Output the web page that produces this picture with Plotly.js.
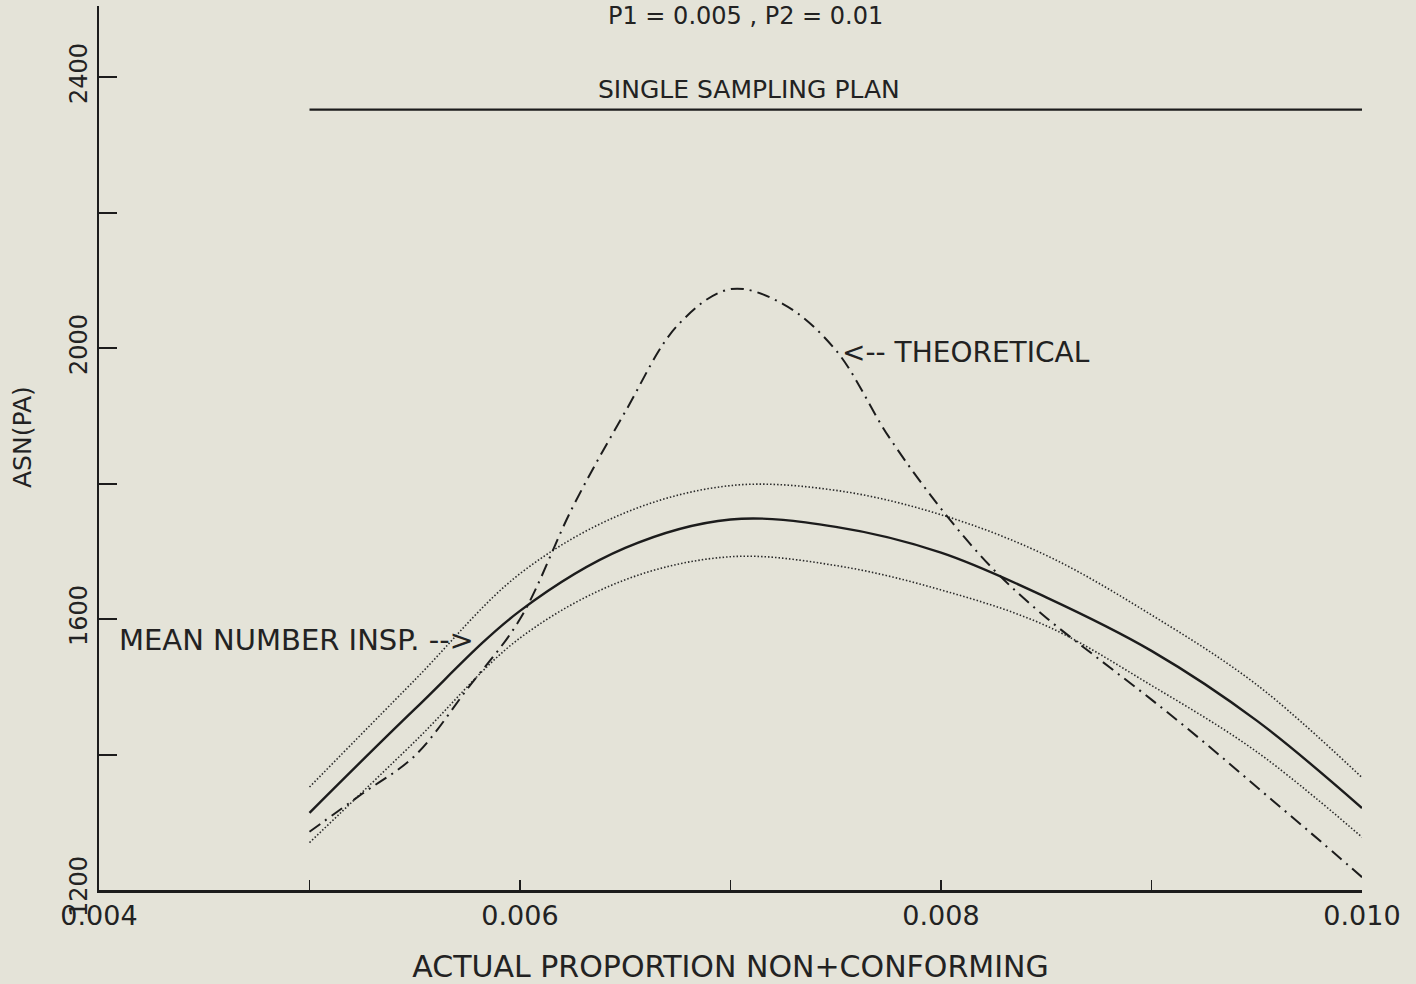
<!DOCTYPE html>
<html>
<head>
<meta charset="utf-8">
<script src="https://cdn.plot.ly/plotly-3.0.1.min.js"></script>
<style>html,body{margin:0;padding:0;background:#e4e3d8;}#chart{width:1416px;height:984px;}</style>
</head>
<body>
<div id="chart"></div>
<script>
// Proportion non-conforming (x) grid for the simulated curves
const pLevels = [0.005, 0.0055, 0.006, 0.0065, 0.007, 0.0075, 0.008, 0.0085, 0.009, 0.0095, 0.010];
const meanASN  = [1314, 1467, 1612, 1705, 1747, 1736, 1698, 1632, 1553, 1450, 1321];
const upperASN = [1352, 1510, 1667, 1757, 1797, 1790, 1754, 1694, 1606, 1503, 1366];
const lowerASN = [1270, 1419, 1572, 1658, 1692, 1679, 1643, 1590, 1502, 1404, 1278];

// Theoretical ASN curve
const pTheory = [0.005, 0.00525, 0.0055, 0.00575, 0.006, 0.00625, 0.0065, 0.00675, 0.007, 0.00725, 0.0075, 0.00775, 0.008, 0.00825, 0.0085, 0.00875, 0.009, 0.00925, 0.0095, 0.00975, 0.010];
const theoryASN = [1286, 1342, 1398, 1497, 1600, 1765, 1906, 2034, 2087, 2065, 1997, 1870, 1763, 1673, 1602, 1541, 1481, 1418, 1352, 1286, 1219];

// Single sampling plan (constant)
const pSingle = [0.005, 0.010];
const singleASN = [2352, 2352];

// Axis ticks
const xTickVals = [0.004, 0.005, 0.006, 0.007, 0.008, 0.009, 0.010];
const xTickText = ['0.004', '', '0.006', '', '0.008', '', '0.010'];
const yTickVals = [1200, 1400, 1600, 1800, 2000, 2200, 2400];
const yTickText = ['1200', '', '1600', '', '2000', '', '2400'];

const ink = '#1c1c1c';

const traces = [
  {x: pSingle, y: singleASN, mode: 'lines', line: {color: ink, width: 2.2}, hoverinfo: 'skip'},
  {x: pLevels, y: upperASN, mode: 'lines', line: {color: '#2a2a2a', width: 1.6, dash: '1.5px,2px', shape: 'spline'}},
  {x: pLevels, y: meanASN, mode: 'lines', line: {color: ink, width: 2.4, shape: 'spline'}},
  {x: pLevels, y: lowerASN, mode: 'lines', line: {color: '#2a2a2a', width: 1.6, dash: '1.5px,2px', shape: 'spline'}},
  {x: pTheory, y: theoryASN, mode: 'lines', line: {color: ink, width: 2, dash: '13px,6px,2px,6px', shape: 'spline'}}
];

const layout = {
  width: 1416, height: 984,
  paper_bgcolor: '#e4e3d8', plot_bgcolor: '#e4e3d8',
  margin: {l: 99, r: 54, t: 6, b: 94},
  showlegend: false,
  font: {family: 'DejaVu Sans, sans-serif', color: '#222'},
  xaxis: {
    range: [0.004, 0.010], tickvals: xTickVals, ticktext: xTickText,
    ticks: 'inside', ticklen: 10, tickwidth: 1.5, tickcolor: ink,
    showline: true, linewidth: 3, linecolor: ink, mirror: false,
    showgrid: false, zeroline: false,
    tickfont: {size: 27, color: '#222'},
    title: {text: 'ACTUAL PROPORTION NON+CONFORMING', font: {size: 30, color: '#222'}, standoff: 28}
  },
  yaxis: {
    range: [1200, 2505], tickvals: yTickVals, ticktext: yTickText, tickangle: -90,
    ticks: 'inside', ticklen: 18, tickwidth: 2, tickcolor: ink,
    showline: true, linewidth: 2.5, linecolor: ink,
    showgrid: false, zeroline: false,
    tickfont: {size: 24, color: '#222'}
  },
  annotations: [
    {text: 'ASN(PA)', xref: 'paper', yref: 'paper', x: -0.061, y: 0.5124, xanchor: 'center', yanchor: 'middle', textangle: -90, showarrow: false, font: {size: 25, color: '#222'}},
    {text: 'P1 = 0.005 , P2 = 0.01', xref: 'x', yref: 'paper', x: 0.00707, y: 1.0068, xanchor: 'center', yanchor: 'top', showarrow: false, font: {size: 24, color: '#222'}},
    {text: 'SINGLE SAMPLING PLAN', xref: 'x', yref: 'y', x: 0.007088, y: 2382, xanchor: 'center', yanchor: 'middle', showarrow: false, font: {size: 25, color: '#222'}},
    {text: '<-- THEORETICAL', xref: 'x', yref: 'y', x: 0.00752, y: 1994, xanchor: 'left', yanchor: 'middle', showarrow: false, font: {size: 28, color: '#222'}},
    {text: 'MEAN NUMBER INSP. -->', xref: 'x', yref: 'y', x: 0.00579, y: 1569, xanchor: 'right', yanchor: 'middle', showarrow: false, font: {size: 29, color: '#222'}}
  ]
};

Plotly.newPlot('chart', traces, layout, {displayModeBar: false, staticPlot: true});
</script>
</body>
</html>
